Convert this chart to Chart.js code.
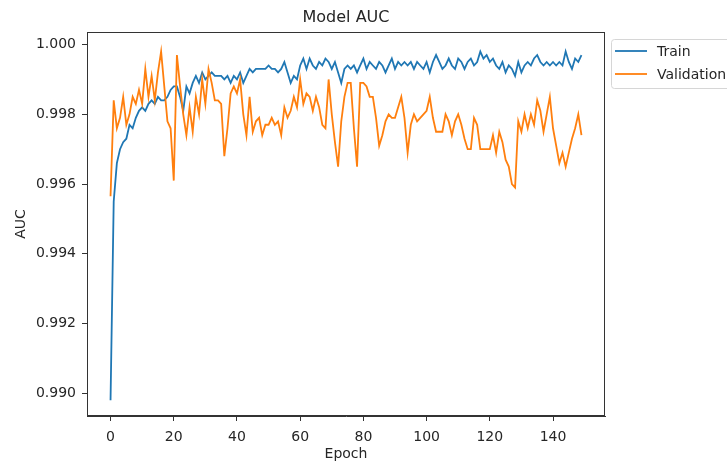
<!DOCTYPE html>
<html>
<head>
<meta charset="utf-8">
<script src="https://cdn.jsdelivr.net/npm/chart.js@4.4.1/dist/chart.umd.min.js"></script>
<style>
  html, body { margin: 0; padding: 0; background: #fff; }
  #wrap { width: 727px; height: 463px; }
</style>
</head>
<body>
<div id="wrap"><canvas id="chart" width="727" height="463"></canvas></div>
<script>
// epochs 0..149
const epochs = Array.from({ length: 150 }, (_, i) => i);

const trainAuc = [
  0.9898, 0.9955, 0.9966, 0.9970, 0.9972, 0.9973, 0.9977, 0.9976, 0.9979, 0.9981,
  0.9982, 0.9981, 0.9983, 0.9984, 0.9983, 0.9985, 0.9984, 0.9984, 0.9985, 0.9987,
  0.9988, 0.9988, 0.9985, 0.9981, 0.9988, 0.9986, 0.9989, 0.9991, 0.9989, 0.9992,
  0.9990, 0.9991, 0.9992, 0.9991, 0.9991, 0.9991, 0.9990, 0.9991, 0.9989, 0.9991,
  0.9990, 0.9992, 0.9989, 0.9991, 0.9993, 0.9992, 0.9993, 0.9993, 0.9993, 0.9993,
  0.9994, 0.9993, 0.9993, 0.9992, 0.9993, 0.9995, 0.9992, 0.9989, 0.9991, 0.9990,
  0.9994, 0.9996, 0.9993, 0.9996, 0.9994, 0.9993, 0.9995, 0.9994, 0.9996, 0.9995,
  0.9993, 0.9995, 0.9992, 0.9989, 0.9993, 0.9994, 0.9993, 0.9994, 0.9992, 0.9994,
  0.9996, 0.9993, 0.9995, 0.9994, 0.9993, 0.9995, 0.9994, 0.9992, 0.9994, 0.9996,
  0.9993, 0.9995, 0.9994, 0.9995, 0.9994, 0.9995, 0.9993, 0.9995, 0.9994, 0.9993,
  0.9995, 0.9992, 0.9995, 0.9997, 0.9995, 0.9993, 0.9994, 0.9996, 0.9994, 0.9993,
  0.9996, 0.9995, 0.9993, 0.9995, 0.9996, 0.9994, 0.9995, 0.9998, 0.9996, 0.9997,
  0.9995, 0.9996, 0.9994, 0.9993, 0.9995, 0.9992, 0.9994, 0.9993, 0.9991, 0.9995,
  0.9992, 0.9994, 0.9995, 0.9994, 0.9996, 0.9997, 0.9995, 0.9994, 0.9995, 0.9994,
  0.9995, 0.9994, 0.9995, 0.9994, 0.9998, 0.9995, 0.9993, 0.9996, 0.9995, 0.9997
];

const valAuc = [
  0.99565, 0.9984, 0.9976, 0.9979, 0.9985, 0.9977, 0.9980, 0.9985, 0.9983, 0.9987,
  0.9983, 0.9993, 0.9985, 0.9991, 0.9984, 0.9992, 0.9998, 0.9988, 0.9978, 0.9976,
  0.9961, 0.9997, 0.9988, 0.9980, 0.9974, 0.9982, 0.9975, 0.9985, 0.9980, 0.9990,
  0.9983, 0.9993, 0.9989, 0.9984, 0.9984, 0.9983, 0.9968, 0.9976, 0.9986, 0.9988,
  0.9986, 0.9990, 0.9980, 0.9974, 0.9985, 0.9975, 0.9978, 0.9979, 0.9974, 0.9977,
  0.9977, 0.9979, 0.9977, 0.9978, 0.9974, 0.9982, 0.9979, 0.9981, 0.9985, 0.9982,
  0.9990, 0.9983, 0.9986, 0.9985, 0.9981, 0.9985, 0.9982, 0.9977, 0.9976, 0.9990,
  0.9980, 0.9972, 0.9965, 0.9978, 0.9985, 0.9989, 0.9989, 0.9976, 0.9965, 0.9989,
  0.9989, 0.9988, 0.9985, 0.9985, 0.9979, 0.9971, 0.9974, 0.9978, 0.9980, 0.9979,
  0.9979, 0.9982, 0.9985, 0.9979, 0.9969, 0.9977, 0.9980, 0.9978, 0.9979, 0.9980,
  0.9981, 0.9985, 0.9979, 0.9975, 0.9975, 0.9975, 0.9980, 0.9978, 0.9974, 0.9978,
  0.9980, 0.9977, 0.9973, 0.9970, 0.9970, 0.9979, 0.9977, 0.9970, 0.9970, 0.9970,
  0.9970, 0.9974, 0.9969, 0.9975, 0.9972, 0.9967, 0.9965, 0.9960, 0.9959, 0.9978,
  0.9975, 0.9980, 0.9976, 0.9980, 0.9977, 0.9984, 0.9981, 0.9975, 0.9980, 0.9985,
  0.9976, 0.9971, 0.9966, 0.9969, 0.9965, 0.9969, 0.9973, 0.9976, 0.9980, 0.9974
];

const xTicks = [0, 20, 40, 60, 80, 100, 120, 140];
const yTicks = [0.990, 0.992, 0.994, 0.996, 0.998, 1.000];

const seriesNames = ['Train', 'Validation'];
const seriesColors = ['#1f77b4', '#ff7f0e'];

const FONT = '"DejaVu Sans", sans-serif';
const TEXT = '#262626';
const AXIS = '#333333';

const toPoints = (vals) => vals.map((v, i) => ({ x: epochs[i], y: v }));

// box round the plot, title and outside legend (matplotlib style)
const framePlugin = {
    id: 'frame',
    afterDraw(chart) {
        const { ctx, chartArea: a } = chart;
        ctx.save();
        ctx.strokeStyle = AXIS;
        ctx.lineWidth = 1;
        ctx.strokeRect(Math.round(a.left) + 0.5, Math.round(a.top) + 0.5,
            Math.round(a.width) - 1, Math.round(a.height) - 1);

        ctx.fillStyle = TEXT;
        ctx.font = '16px ' + FONT;
        ctx.textAlign = 'center';
        ctx.textBaseline = 'middle';
        ctx.fillText('Model AUC', (a.left + a.right) / 2, 18);

        // legend
        const lx = a.right + 6, ly = a.top + 7;
        ctx.beginPath();
        ctx.roundRect(lx + 0.5, ly + 0.5, 140, 49, 3);
        ctx.fillStyle = 'rgba(255,255,255,0.8)';
        ctx.fill();
        ctx.strokeStyle = '#d6d6d6';
        ctx.stroke();
        ctx.font = '14px ' + FONT;
        ctx.textAlign = 'left';
        seriesNames.forEach((name, i) => {
            const y = ly + 12 + i * 23;
            ctx.beginPath();
            ctx.moveTo(lx + 4, y);
            ctx.lineTo(lx + 36, y);
            ctx.strokeStyle = seriesColors[i];
            ctx.lineWidth = 1.8;
            ctx.stroke();
            ctx.fillStyle = TEXT;
            ctx.fillText(name, lx + 46, y + 1);
        });
        ctx.restore();
    }
};

new Chart(document.getElementById('chart').getContext('2d'), {
    type: 'line',
    data: {
        datasets: [{
            label: seriesNames[0],
            data: toPoints(trainAuc),
            borderColor: seriesColors[0],
            borderWidth: 1.8,
            pointRadius: 0,
            tension: 0,
            fill: false,
            order: 2
        }, {
            label: seriesNames[1],
            data: toPoints(valAuc),
            borderColor: seriesColors[1],
            borderWidth: 1.8,
            pointRadius: 0,
            tension: 0,
            fill: false,
            order: 1
        }]
    },
    options: {
        responsive: false,
        animation: false,
        devicePixelRatio: 1,
        layout: { padding: { top: 32, right: 122, left: 0, bottom: 0 } },
        plugins: {
            legend: { display: false },
            title: { display: false },
            tooltip: { enabled: false }
        },
        scales: {
            x: {
                type: 'linear',
                min: -7.45,
                max: 156.45,
                afterFit: (s) => { s.height = 47; },
                afterBuildTicks: (s) => { s.ticks = xTicks.map(v => ({ value: v })); },
                grid: { display: true, drawOnChartArea: false, drawTicks: true, tickLength: 5, color: AXIS },
                border: { display: true, color: AXIS, width: 1 },
                ticks: {
                    padding: 8,
                    maxRotation: 0,
                    color: TEXT,
                    font: { family: FONT, size: 14 },
                    callback: (v) => String(v)
                },
                title: {
                    display: true,
                    text: 'Epoch',
                    color: TEXT,
                    font: { family: FONT, size: 14 },
                    padding: { top: 0, bottom: 0 }
                }
            },
            y: {
                type: 'linear',
                min: 0.98935,
                max: 1.00036,
                afterFit: (s) => { s.width = 87; },
                afterBuildTicks: (s) => { s.ticks = yTicks.map(v => ({ value: v })); },
                grid: { display: true, drawOnChartArea: false, drawTicks: true, tickLength: 5, color: AXIS },
                border: { display: true, color: AXIS, width: 1 },
                ticks: {
                    padding: 6,
                    color: TEXT,
                    font: { family: FONT, size: 14 },
                    callback: (v) => v.toFixed(3)
                },
                title: {
                    display: true,
                    text: 'AUC',
                    color: TEXT,
                    font: { family: FONT, size: 14 },
                    padding: { top: 13, bottom: 0 }
                }
            }
        }
    },
    plugins: [framePlugin]
});
</script>
</body>
</html>
